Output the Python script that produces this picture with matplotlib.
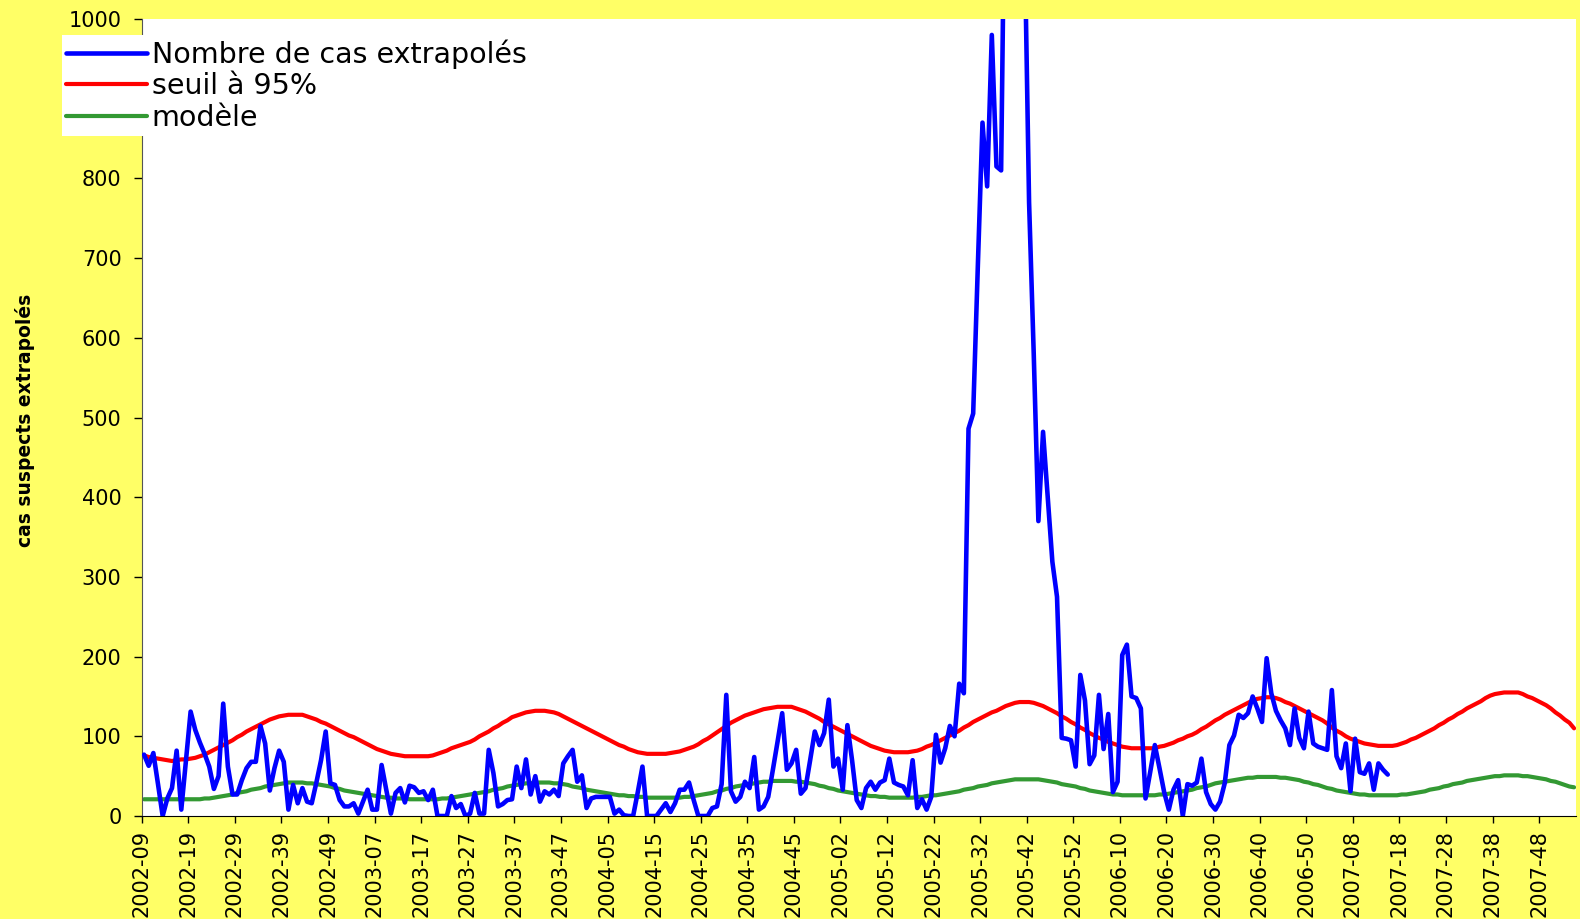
import numpy as np
import matplotlib
matplotlib.use("Agg")
import matplotlib.pyplot as plt

# weekly series, one value per week starting 2002-09
cas = [
    77, 63, 79, 40, 0, 22, 35, 82, 8, 70,
    131, 108, 92, 78, 62, 34, 50, 141, 62, 27,
    27, 45, 60, 68, 68, 113, 91, 32, 60, 82,
    68, 8, 39, 16, 35, 18, 16, 42, 70, 106,
    41, 39, 20, 12, 12, 16, 3, 18, 33, 8,
    8, 64, 33, 3, 29, 35, 17, 38, 36, 29,
    31, 20, 33, 0, 0, 0, 25, 10, 15, 0,
    3, 29, 3, 3, 83, 54, 12, 15, 20, 21,
    62, 35, 71, 27, 50, 18, 31, 27, 33, 25,
    66, 75, 83, 43, 51, 10, 22, 24, 24, 24,
    24, 3, 8, 1, 0, 0, 30, 62, 0, 0,
    0, 8, 16, 5, 16, 33, 33, 42, 20, 0,
    0, 0, 10, 12, 40, 152, 31, 18, 24, 43,
    35, 74, 8, 12, 24, 58, 93, 129, 58, 66,
    83, 28, 35, 70, 106, 89, 104, 146, 62, 72,
    33, 114, 70, 20, 10, 35, 43, 33, 42, 45,
    72, 42, 39, 37, 26, 70, 10, 21, 8, 24,
    102, 67, 85, 113, 100, 166, 154, 486, 505, 690,
    870, 790, 980, 815, 810, 1300, 1450, 1500, 1400, 1115,
    770, 580, 370, 482, 400, 319, 275, 98, 97, 95,
    62, 177, 145, 65, 76, 152, 84, 128, 30, 43,
    202, 215, 150, 148, 135, 22, 55, 89, 60, 30,
    8, 33, 45, 0, 40, 38, 42, 72, 30, 15,
    8, 18, 41, 89, 101, 127, 123, 129, 150, 135,
    118, 198, 154, 132, 120, 110, 89, 135, 98, 85,
    131, 91, 87, 85, 83, 158, 75, 60, 91, 31,
    97, 55, 53, 66, 33, 66, 58, 52,
]

seuil = [
    76, 74, 73, 72, 71, 70, 69, 70, 71, 71,
    72, 73, 75, 77, 80, 83, 86, 89, 92, 95,
    99, 102, 106, 109, 112, 115, 118, 121, 123, 125,
    126, 127, 127, 127, 127, 125, 123, 121, 118, 116,
    113, 110, 107, 104, 101, 99, 96, 93, 90, 87,
    84, 82, 80, 78, 77, 76, 75, 75, 75, 75,
    75, 75, 76, 78, 80, 82, 85, 87, 89, 91,
    93, 96, 100, 103, 106, 110, 113, 117, 120, 124,
    126, 128, 130, 131, 132, 132, 132, 131, 130, 128,
    125, 122, 119, 116, 113, 110, 107, 104, 101, 98,
    95, 92, 89, 87, 84, 82, 80, 79, 78, 78,
    78, 78, 78, 79, 80, 81, 83, 85, 87, 90,
    94, 97, 101, 105, 109, 113, 117, 120, 123, 126,
    128, 130, 132, 134, 135, 136, 137, 137, 137, 137,
    135, 133, 131, 128, 125, 122, 118, 115, 112, 109,
    106, 103, 100, 97, 94, 91, 88, 86, 84, 82,
    81, 80, 80, 80, 80, 81, 82, 84, 87, 89,
    92, 95, 98, 101, 104, 107, 111, 114, 118, 121,
    124, 127, 130, 132, 135, 138, 140, 142, 143, 143,
    143, 142, 140, 138, 135, 132, 129, 125, 122, 118,
    115, 111, 108, 104, 101, 98, 96, 93, 91, 89,
    87, 86, 85, 85, 85, 85, 85, 85, 87, 88,
    90, 92, 95, 97, 100, 102, 105, 109, 112, 116,
    120, 123, 127, 130, 133, 136, 139, 142, 145, 147,
    148, 149, 149, 148, 146, 143, 141, 138, 135, 132,
    129, 126, 123, 120, 116, 111, 107, 104, 100, 97,
    95, 93, 91, 90, 89, 88, 88, 88, 88, 89,
    91, 93, 96, 98, 101, 104, 107, 110, 114, 117,
    121, 124, 128, 131, 135, 138, 141, 144, 148, 151,
    153, 154, 155, 155, 155, 155, 153, 150, 148, 145,
    142, 139, 135, 130, 126, 121, 117, 110,
]

modele = [
    21, 21, 21, 21, 21, 21, 21, 21, 21, 21,
    21, 21, 21, 22, 22, 23, 24, 25, 26, 27,
    29, 30, 31, 33, 34, 35, 37, 38, 39, 40,
    41, 42, 42, 42, 42, 41, 41, 40, 39, 38,
    37, 35, 34, 32, 31, 30, 29, 28, 27, 26,
    25, 24, 23, 23, 22, 22, 22, 21, 21, 21,
    21, 21, 21, 21, 22, 22, 23, 24, 25, 26,
    27, 28, 29, 30, 31, 33, 34, 35, 37, 38,
    39, 40, 41, 41, 42, 42, 42, 42, 41, 41,
    40, 39, 37, 36, 35, 33, 32, 31, 30, 29,
    28, 27, 26, 26, 25, 25, 24, 24, 23, 23,
    23, 23, 23, 23, 23, 23, 24, 24, 25, 26,
    27, 28, 29, 31, 32, 34, 35, 37, 38, 39,
    40, 41, 42, 43, 43, 44, 44, 44, 44, 44,
    43, 43, 42, 41, 40, 38, 37, 35, 34, 32,
    31, 30, 29, 28, 27, 26, 25, 25, 24, 24,
    23, 23, 23, 23, 23, 23, 24, 24, 25, 26,
    26, 27, 28, 29, 30, 31, 33, 34, 35, 37,
    38, 39, 41, 42, 43, 44, 45, 46, 46, 46,
    46, 46, 46, 45, 44, 43, 42, 40, 39, 38,
    37, 35, 34, 32, 31, 30, 29, 28, 27, 27,
    26, 26, 26, 26, 26, 26, 26, 26, 27, 27,
    28, 29, 30, 31, 32, 33, 35, 36, 37, 39,
    41, 42, 43, 44, 45, 46, 47, 48, 48, 49,
    49, 49, 49, 49, 48, 48, 47, 46, 45, 43,
    42, 40, 39, 37, 35, 34, 32, 31, 30, 29,
    28, 27, 27, 26, 26, 26, 26, 26, 26, 26,
    27, 27, 28, 29, 30, 31, 33, 34, 35, 37,
    38, 40, 41, 42, 44, 45, 46, 47, 48, 49,
    50, 50, 51, 51, 51, 51, 50, 50, 49, 48,
    47, 46, 44, 43, 41, 39, 37, 36,
]

semaines = ["2002-09", "2002-19", "2002-29", "2002-39", "2002-49",
            "2003-07", "2003-17", "2003-27", "2003-37", "2003-47",
            "2004-05", "2004-15", "2004-25", "2004-35", "2004-45",
            "2005-02", "2005-12", "2005-22", "2005-32", "2005-42",
            "2005-52", "2006-10", "2006-20", "2006-30", "2006-40",
            "2006-50", "2007-08", "2007-18", "2007-28", "2007-38",
            "2007-48"]

n_sem = len(seuil)
jaune = "#FFFF66"

fig = plt.figure(figsize=(15.8, 9.19), dpi=100, facecolor=jaune)
ax = fig.add_axes([141.7/1580, 1 - 816/919, (1576.4 - 141.7)/1580, (816 - 19)/919])
ax.set_facecolor("white")

x_cas = np.arange(len(cas)) + 0.5
x_mod = np.arange(n_sem) + 0.5
l1, = ax.plot(x_cas, cas, color="#0000FF", lw=3.3, solid_capstyle="round",
              solid_joinstyle="round", zorder=4)
l2, = ax.plot(x_mod, seuil, color="#FF0000", lw=3.0, solid_capstyle="round", zorder=3)
l3, = ax.plot(x_mod, modele, color="#339933", lw=3.0, solid_capstyle="round", zorder=2)

ax.set_xlim(0, n_sem)
ax.set_ylim(0, 1000)
ax.set_yticks(np.arange(0, 1001, 100))
ax.set_xticks(np.arange(0, 10 * len(semaines), 10))
ax.set_xticklabels(semaines, rotation=90, ha="center", va="top")

for s in ["top", "right"]:
    ax.spines[s].set_visible(False)
ax.spines["left"].set_color("#555555")
ax.spines["bottom"].set_color("black")
ax.tick_params(axis="y", direction="out", length=5.5, width=1, labelsize=15, pad=9)
ax.tick_params(axis="x", direction="out", length=5, width=1, labelsize=15, pad=5)

fig.text(25/1580, 1 - 420/919, "cas suspects extrapolés", rotation=90,
         ha="center", va="center", fontsize=13.5, fontweight="bold")

leg = fig.legend([l1, l2, l3], ["Nombre de cas extrapolés", "seuil à 95%", "modèle"],
                 loc="upper left", bbox_to_anchor=(62/1580, 1 - 35/919),
                 fontsize=20.5, frameon=True, fancybox=False, framealpha=1,
                 edgecolor="none", facecolor="white", borderpad=0.15,
                 labelspacing=0.12, handlelength=2.85, handletextpad=0.15,
                 borderaxespad=0)

fig.savefig("out.png", dpi=100, facecolor=jaune)
